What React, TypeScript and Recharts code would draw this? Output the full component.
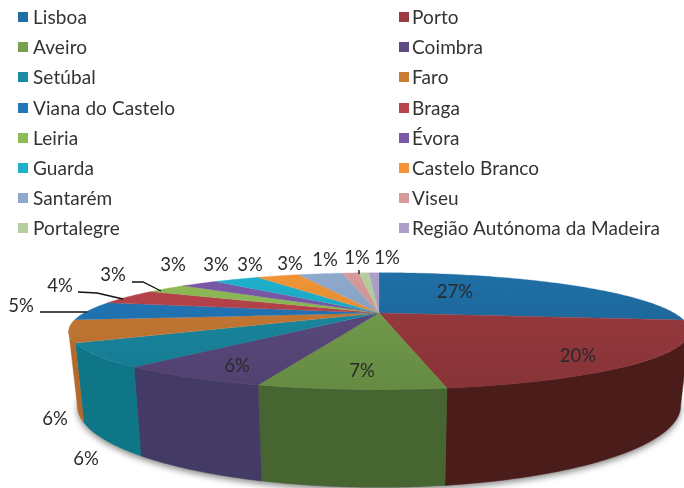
import { PieChart, Pie, Cell, Legend } from "recharts";

const categories = [
  "Lisboa", "Porto", "Aveiro", "Coimbra", "Setúbal", "Faro", "Viana do Castelo", "Braga",
  "Leiria", "Évora", "Guarda", "Castelo Branco", "Santarém", "Viseu", "Portalegre", "Região Autónoma da Madeira",
];
const values = [27, 20.4, 7.2, 6.2, 6.1, 6.1, 5.2, 4.4, 2.8, 2.6, 3.2, 3, 3.1, 1.2, 0.7, 0.7];

const topColors = [
  "#1f6fa6", "#9c3b40", "#76a04e", "#5d4c82", "#1a8ba5", "#ca7b34", "#2277b9", "#b9434b",
  "#8fbb57", "#7a5aa8", "#1fb0cc", "#f09436", "#8ea9cc", "#d69a9a", "#b5cf9e", "#aca0c8",
];
const wallColors = [
  "#123f60", "#4a1d1b", "#476530", "#443a66", "#0f7688", "#b3682c", "#1b5c90", "#8a3237",
  "#6b8c42", "#5a4280", "#17869c", "#b86f28", "#6b7f9a", "#a07474", "#889c77", "#817896",
];

// where the percent texts sit, and the leader lines of the small slices
const labelSpots = [
  [455, 291], [578, 355], [362, 370], [237, 365], [86, 458], [55, 418], [21, 305], [60, 285],
  [113, 274], [173, 264], [216, 264], [250, 264], [290, 263], [325, 259], [357, 257], [387, 257],
];
const leaders: Record<string, number[][]> = {
  "Viana do Castelo": [[40, 312], [87, 312]],
  "Braga": [[78, 292], [97, 293], [123, 299]],
  "Leiria": [[132, 282], [143, 282], [161, 291]],
  "Portalegre": [[359, 270], [359, 274]],
};

const FLATTEN = 0.179; // vertical squeeze of the disc
const PERSPECTIVE = 0.31;
const DEPTH = 67.5;
const BASE_SHRINK = 0.972;
const FONT = "Lato, 'Open Sans', sans-serif";

const rows = categories.map((name, i) => ({ name, value: values[i], wall: wallColors[i] }));

function shade(hex: string, f: number) {
  const n = parseInt(hex.slice(1), 16);
  const c = [n >> 16, (n >> 8) & 255, n & 255].map((x) => Math.round(x * f));
  return `rgb(${c[0]},${c[1]},${c[2]})`;
}

// clockwise degrees from 12 o'clock -> point on the top face and on the base
function rim(cx: number, cy: number, R: number, deg: number) {
  const t = (deg * Math.PI) / 180;
  const u = Math.sin(t);
  const v = -Math.cos(t);
  const w = 1 - PERSPECTIVE * v;
  const x = cx + (R * u) / w;
  const y = cy + (R * FLATTEN * v) / w;
  return { x, y, bx: cx + (x - cx) * BASE_SHRINK, by: y + DEPTH / w };
}

function Slice3D(props: any) {
  const { cx, cy, outerRadius: R, startAngle, endAngle, fill } = props;
  const row = props.payload ?? props;
  const a = 90 - startAngle;
  const b = 90 - endAngle;
  const steps = Math.max(2, Math.ceil(b - a));
  const arc = Array.from({ length: steps + 1 }, (_, i) => rim(cx, cy, R, a + ((b - a) * i) / steps));
  const top = `M${cx},${cy} ` + arc.map((p) => `L${p.x},${p.y}`).join(" ") + " Z";

  // only the part of the side that faces the viewer
  const from = Math.max(a, 108);
  const to = Math.min(b, 252);
  let wall = "";
  if (to > from) {
    const n = Math.ceil(to - from) + 1;
    const side = Array.from({ length: n + 1 }, (_, i) => rim(cx, cy, R, from + ((to - from) * i) / n));
    wall =
      "M" + side.map((p) => `${p.x},${p.y}`).join(" L") +
      " L" + [...side].reverse().map((p) => `${p.bx},${p.by}`).join(" L") + " Z";
  }

  let shadow = "";
  if (row.name === categories[0]) {
    const all = Array.from({ length: 361 }, (_, i) => rim(cx, cy, R, i));
    shadow = "M" + all.map((p) => `${p.bx},${p.by + 3}`).join(" L") + " Z";
  }

  const gid = `top-${categories.indexOf(row.name)}`;
  return (
    <g>
      <linearGradient id={gid} gradientUnits="userSpaceOnUse" x1="0" y1={cy - 40} x2="0" y2={cy + 80}>
        <stop offset="0" stopColor={fill} />
        <stop offset="1" stopColor={shade(fill, 0.86)} />
      </linearGradient>
      {shadow && <path d={shadow} fill="#8a8a8a" style={{ filter: "blur(3px)" }} />}
      {wall && <path d={wall} fill={row.wall} stroke={row.wall} strokeWidth={0.5} />}
      <path d={top} fill={`url(#${gid})`} stroke={fill} strokeWidth={0.3} />
    </g>
  );
}

function PercentLabel(props: any) {
  const name = props.name ?? props.payload?.name;
  const i = categories.indexOf(name);
  const [x, y] = labelSpots[i];
  const line = leaders[name];
  return (
    <g>
      {line && <polyline points={line.map((p) => p.join(",")).join(" ")} fill="none" stroke="#111" strokeWidth={1.3} />}
      <text x={x} y={y} textAnchor="middle" dominantBaseline="central" fontFamily={FONT} fontSize={18.5} fill="#2a2a2a">
        {Math.round(values[i])}%
      </text>
    </g>
  );
}

function TwoColumnLegend({ payload }: any) {
  return (
    <div style={{ position: "relative", width: 684, height: 245, fontFamily: FONT, fontSize: 19, letterSpacing: 0.1, color: "#333" }}>
      {(payload ?? []).map((entry: any, i: number) => {
        const col = i % 2;
        const row = Math.floor(i / 2);
        const y = 17 + row * 30.2;
        return (
          <div key={entry.value}>
            <div
              style={{
                position: "absolute",
                left: col ? 399 : 18,
                top: y - 5,
                width: 10,
                height: 10,
                background: topColors[categories.indexOf(entry.value)],
              }}
            />
            <div style={{ position: "absolute", left: col ? 412 : 33, top: y - 12, lineHeight: "24px", whiteSpace: "nowrap" }}>
              {entry.value}
            </div>
          </div>
        );
      })}
    </div>
  );
}

export default function App() {
  return (
    <div style={{ position: "absolute", left: 0, top: 0, width: 684, height: 488, background: "#fff", filter: "blur(0.6px)" }}>
      <PieChart width={684} height={488} margin={{ top: 0, right: 0, bottom: 0, left: 0 }}>
        <Legend
          layout="horizontal"
          verticalAlign="middle"
          itemSorter={null}
          content={<TwoColumnLegend />}
          wrapperStyle={{ left: 0, top: 0, width: 684, height: 245 }}
        />
        <Pie
          data={rows}
          dataKey="value"
          nameKey="name"
          cx={379}
          cy={313}
          outerRadius={295}
          startAngle={90}
          endAngle={-270}
          stroke="none"
          shape={Slice3D}
          label={PercentLabel}
          labelLine={false}
          isAnimationActive={false}
        >
          {rows.map((r, i) => (
            <Cell key={r.name} fill={topColors[i]} />
          ))}
        </Pie>
      </PieChart>
    </div>
  );
}
